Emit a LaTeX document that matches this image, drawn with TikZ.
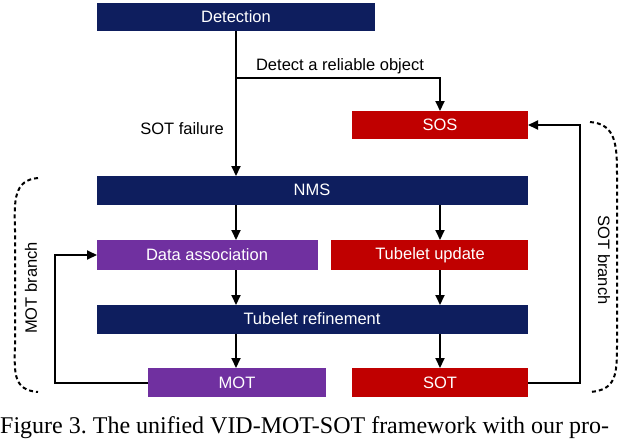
\documentclass[tikz,border=0pt]{standalone}
\usepackage{fontspec}
\setmainfont{Liberation Sans}
\newfontfamily\capfont{Liberation Serif}
\usetikzlibrary{arrows.meta}
\definecolor{navy}{RGB}{14,30,94}
\definecolor{redbox}{RGB}{192,0,0}
\definecolor{purplebox}{RGB}{112,48,160}
\tikzset{
  box/.style={draw=none,text=white,font=\fontsize{16.5}{18}\selectfont,inner sep=0pt},
  arr/.style={line width=2pt,-{Triangle[length=10pt,width=9pt]}},
  lbl/.style={font=\fontsize{16.5}{18}\selectfont},
  brk/.style={line width=2pt,dash pattern=on 4pt off 3pt}
}
\begin{document}
\begin{tikzpicture}[x=1pt,y=-1pt]
\useasboundingbox (0,0) rectangle (640,439);
\fill[navy] (97,3) rectangle (375,31);
\node[box] (det) at (236,17) {Detection};
\fill[redbox] (352,111) rectangle (528,139);
\node[box] (sos) at (440,125) {SOS};
\fill[navy] (97,176) rectangle (528,205);
\node[box] (nms) at (312,190) {NMS};
\fill[purplebox] (97,240) rectangle (318,270);
\node[box] (da) at (207,255) {Data association};
\fill[redbox] (331,240) rectangle (528,270);
\node[box] (tu) at (430,255) {Tubelet update};
\fill[navy] (97,305) rectangle (528,334);
\node[box] (tr) at (312,319) {Tubelet refinement};
\fill[purplebox] (148,368) rectangle (326,397);
\node[box] (mot) at (237,383) {MOT};
\fill[redbox] (352,368) rectangle (528,397);
\node[box] (sot) at (440,383) {SOT};

\coordinate (split) at (236,78);
\draw[arr] (236,31) -- (236,176);
\draw[arr] (split) -- (440,78) -- (440,111);
\node[lbl] (rel) at (340,66) {Detect a reliable object};
\node[lbl] (fail) at (182,129) {SOT failure};

\draw[arr] (236,205) -- (236,240);
\draw[arr] (440,205) -- (440,240);
\draw[arr] (236,270) -- (236,305);
\draw[arr] (440,270) -- (440,305);
\draw[arr] (236,334) -- (236,368);
\draw[arr] (440,334) -- (440,368);

% feedback loops
\draw[arr] (148,383) -- (55,383) -- (55,255) -- (97,255);
\draw[arr] (528,383) -- (580,383) -- (580,125) -- (528,125);

% branch brackets
\draw[brk] (38,178) .. controls (14,180) and (14,200) .. (15,230) -- (15,345) .. controls (14,375) and (14,390) .. (38,392);
\node[lbl,rotate=90] (motb) at (31,288) {MOT branch};
\draw[brk] (590,122) .. controls (616,124) and (617,145) .. (617,175) -- (617,345) .. controls (617,375) and (616,390) .. (590,392);
\node[lbl,rotate=-90] (sotb) at (604,260) {SOT branch};

\node[font=\capfont\fontsize{24}{26}\selectfont,anchor=west,inner sep=0pt] (cap) at (0,428) {Figure 3.\ The unified VID-MOT-SOT framework with our pro-};
\end{tikzpicture}
\end{document}
